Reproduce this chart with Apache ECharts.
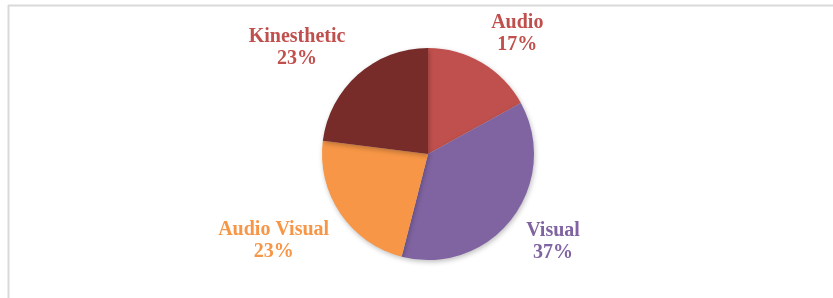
<!DOCTYPE html>
<html lang="en">
<head>
    <meta charset="utf-8">
    <title>Learning styles</title>
    <style>
        html, body { margin: 0; padding: 0; background: #fff; }
        #main { width: 833px; height: 298px; }
    </style>
</head>
<body>
<div id="main"></div>
<script src="https://cdn.jsdelivr.net/npm/echarts@6/dist/echarts.min.js"></script>
<script>
    var names = ['Audio', 'Visual', 'Audio Visual', 'Kinesthetic'];
    var values = [17, 37, 23, 23];
    var colors = ['#C0504D', '#8064A2', '#F79646', '#772C2A'];
    var labelColors = ['#C0504D', '#8064A2', '#F79646', '#C0504D'];

    var pieData = [];
    for (var i = 0; i < names.length; i++) {
        pieData.push({
            name: names[i],
            value: values[i],
            itemStyle: { color: colors[i] },
            label: { color: labelColors[i] }
        });
    }

    // small nudges of the outside labels, like the hand-placed ones in the original
    var nudge = [[-7, -10], [-8, 9], [12, 15], [7, -10]];

    var myChart = echarts.init(document.getElementById('main'));
    var option = {
        animation: false,
        graphic: [
            // frame of the chart area (top and left edges visible)
            { type: 'line', shape: { x1: 8, y1: 5.5, x2: 833, y2: 5.5 }, style: { stroke: '#d9d9d9', lineWidth: 2 } },
            { type: 'line', shape: { x1: 8.5, y1: 5, x2: 8.5, y2: 298 }, style: { stroke: '#d9d9d9', lineWidth: 2 } }
        ],
        series: [{
            type: 'pie',
            center: [428, 154],
            radius: 106,
            startAngle: 90,
            clockwise: true,
            data: pieData,
            itemStyle: {
                shadowBlur: 5,
                shadowColor: 'rgba(0,0,0,0.25)',
                shadowOffsetX: 1,
                shadowOffsetY: 2
            },
            label: {
                show: true,
                position: 'outside',
                formatter: '{b}\n{d}%',
                fontFamily: 'Liberation Serif',
                fontWeight: 'bold',
                fontSize: 20,
                lineHeight: 22
            },
            labelLine: { show: false, length: 22, length2: 0 },
            labelLayout: function (p) {
                var r = p.labelRect;
                var n = nudge[p.dataIndex];
                return {
                    x: r.x + r.width / 2 + n[0],
                    y: r.y + r.height / 2 + n[1],
                    align: 'center',
                    verticalAlign: 'middle'
                };
            },
            emphasis: { disabled: true }
        }]
    };
    myChart.setOption(option);
</script>
</body>
</html>
